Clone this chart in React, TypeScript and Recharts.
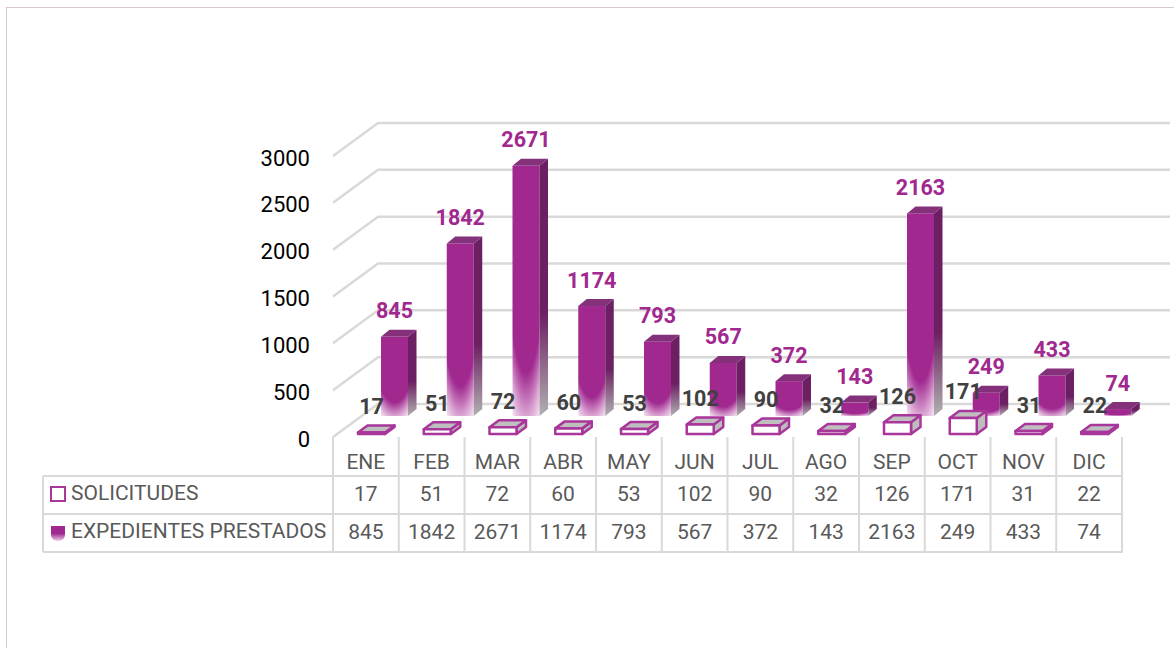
import { ComposedChart, Bar, XAxis, YAxis, CartesianGrid, LabelList } from 'recharts'

const MONTHS = ['ENE', 'FEB', 'MAR', 'ABR', 'MAY', 'JUN', 'JUL', 'AGO', 'SEP', 'OCT', 'NOV', 'DIC']
const SOLICITUDES = [17, 51, 72, 60, 53, 102, 90, 32, 126, 171, 31, 22]
const PRESTADOS = [845, 1842, 2671, 1174, 793, 567, 372, 143, 2163, 249, 433, 74]
const Y_TICKS = [0, 500, 1000, 1500, 2000, 2500, 3000]

const data = MONTHS.map((m, i) => ({ month: m, solicitudes: SOLICITUDES[i], prestados: PRESTADOS[i] }))

const FONT = 'Roboto, sans-serif'
const PURPLE = '#A0288F'
const GRID = '#D9D9D9'
const TEXT = '#595959'

// fake 3D depth, same look as the excel chart
const DEPTH_Y = 7
const WALL_X = 45
const WALL_Y = 33
const WALL_RIGHT = 1170
const BAR_W = 27

// each series sits on its own plane in front of the axis zero
const BACK = { dx: 29, dy: -21, depth: 8.5 }
const FRONT = { dx: 6, dy: -3, depth: 9.5 }

function poly(pts: number[][]) {
  return pts.map(p => p.join(',')).join(' ')
}

function BackBar({ x, y, width, height }: any) {
  const l = x + BACK.dx
  const r = l + width
  const t = y + BACK.dy
  const b = t + height
  const d = BACK.depth
  return (
    <g>
      <rect x={l} y={t} width={width} height={height} fill="url(#faceFade)" />
      <polygon points={poly([[r, t], [r + d, t - DEPTH_Y], [r + d, b - DEPTH_Y], [r, b]])} fill="url(#sideFade)" />
      <polygon points={poly([[l, t], [l + d, t - DEPTH_Y], [r + d, t - DEPTH_Y], [r, t]])} fill="#85307B" />
    </g>
  )
}

function FrontBar({ x, y, width, height }: any) {
  const l = x + FRONT.dx
  const r = l + width
  const t = y + FRONT.dy
  const b = t + height
  const d = FRONT.depth
  const stroke = { stroke: '#A9369B', strokeWidth: 2.5, strokeLinejoin: 'round' as const }
  return (
    <g>
      <polygon points={poly([[r, t], [r + d, t - DEPTH_Y], [r + d, b - DEPTH_Y], [r, b]])} fill="#BDBDBD" {...stroke} />
      <polygon points={poly([[l, t], [l + d, t - DEPTH_Y], [r + d, t - DEPTH_Y], [r, t]])} fill="#BFBFBF" {...stroke} />
      <rect x={l} y={t} width={width} height={height} fill="#fff" {...stroke} />
    </g>
  )
}

function backLabel({ x, y, width, value }: any) {
  return (
    <text x={x + BACK.dx + width / 2} y={y + BACK.dy - 26} textAnchor="middle" dominantBaseline="central"
      fontFamily={FONT} fontWeight={700} fontSize={21.5} fill={PURPLE}>{value}</text>
  )
}

function frontLabel({ x, y, width, value }: any) {
  return (
    <text x={x + FRONT.dx + width / 2} y={y + FRONT.dy - 26} textAnchor="middle" dominantBaseline="central"
      fontFamily={FONT} fontWeight={700} fontSize={21.5} fill="#404040">{value}</text>
  )
}

// back wall + side wall gridline, bent like the 3D box
function WallLine({ x1, y1 }: any) {
  return (
    <polyline points={poly([[x1, y1], [x1 + WALL_X, y1 - WALL_Y], [WALL_RIGHT, y1 - WALL_Y]])}
      fill="none" stroke={GRID} strokeWidth={2.5} />
  )
}

// one column of the data table under each month
function TableTick({ x, y, index, payload }: any) {
  const colW = 65.75
  const left = x - colW / 2
  const cell = { textAnchor: 'middle' as const, dominantBaseline: 'central' as const, fontFamily: FONT, fontSize: 21, fill: TEXT }
  return (
    <g>
      <line x1={left} x2={left} y1={y} y2={552} stroke={GRID} strokeWidth={2} />
      {index === MONTHS.length - 1 && <line x1={left + colW} x2={left + colW} y1={y} y2={552} stroke={GRID} strokeWidth={2} />}
      <text x={x} y={462} {...cell}>{payload.value}</text>
      <text x={x} y={494} {...cell}>{SOLICITUDES[index]}</text>
      <text x={x} y={532} {...cell}>{PRESTADOS[index]}</text>
    </g>
  )
}

function TableHead() {
  const label = { dominantBaseline: 'central' as const, fontFamily: FONT, fontSize: 21, fill: TEXT }
  return (
    <g>
      <line x1={43} x2={1123} y1={476} y2={476} stroke={GRID} strokeWidth={2} />
      <line x1={43} x2={1123} y1={514} y2={514} stroke={GRID} strokeWidth={2} />
      <line x1={43} x2={1123} y1={552} y2={552} stroke={GRID} strokeWidth={2} />
      <line x1={43} x2={43} y1={476} y2={552} stroke={GRID} strokeWidth={2} />
      <rect x={51} y={487} width={14} height={14} fill="#fff" stroke="#A9369B" strokeWidth={2} />
      <path d="M51 526 H65 V534 Q65 541 58 541 Q51 541 51 534 Z" fill="url(#keyFade)" />
      <text x={71} y={493} {...label}>SOLICITUDES</text>
      <text x={71} y={531} {...label}>EXPEDIENTES PRESTADOS</text>
    </g>
  )
}

function YTick({ x, y, payload }: any) {
  return (
    <text x={x} y={y + 2} textAnchor="end" dominantBaseline="central" fontFamily={FONT} fontSize={22} fill="#000">
      {payload.value}
    </text>
  )
}

export default function App() {
  return (
    <div style={{ position: 'absolute', left: 0, top: 0, width: 1174, height: 648, background: '#fff' }}>
      <div style={{ position: 'absolute', left: 6, top: 7, right: 0, bottom: 0, borderLeft: '1px solid #DCC6D4', borderTop: '1px solid #DCC6D4' }} />
      <ComposedChart
        width={1174}
        height={648}
        data={data}
        barSize={BAR_W}
        barGap={-BAR_W}
        margin={{ top: 156, right: 52, bottom: 96, left: 273 }}
        style={{ position: 'absolute', left: 0, top: 0 }}
      >
        <defs>
          <radialGradient id="faceFade" cx="0.5" cy="0" r="1.118">
            <stop offset="0.74" stopColor={PURPLE} />
            <stop offset="0.89" stopColor="#D9A2D1" />
            <stop offset="1" stopColor="#F6E8F4" />
          </radialGradient>
          <linearGradient id="sideFade" x1="0" y1="0" x2="0" y2="1">
            <stop offset="0.6" stopColor="#6D1F63" />
            <stop offset="1" stopColor="#B0B0B0" />
          </linearGradient>
          <linearGradient id="keyFade" x1="0" y1="0" x2="0" y2="1">
            <stop offset="0.5" stopColor={PURPLE} />
            <stop offset="1" stopColor="#EBD0E7" />
          </linearGradient>
        </defs>
        <CartesianGrid vertical={false} horizontal={(props: any) => <WallLine key={props.key} {...props} />} />
        <XAxis
          dataKey="month"
          height={115}
          interval={0}
          axisLine={false}
          tickLine={false}
          tickSize={0}
          tickMargin={0}
          tick={(props: any) => <TableTick {...props} />}
        />
        <YAxis
          width={60}
          domain={[0, 3000]}
          ticks={Y_TICKS}
          axisLine={false}
          tickLine={false}
          tickSize={0}
          tickMargin={23}
          tick={(props: any) => <YTick {...props} />}
        />
        <TableHead />
        <Bar dataKey="prestados" shape={BackBar} isAnimationActive={false}>
          <LabelList dataKey="prestados" content={backLabel} />
        </Bar>
        <Bar dataKey="solicitudes" shape={FrontBar} isAnimationActive={false}>
          <LabelList dataKey="solicitudes" content={frontLabel} />
        </Bar>
      </ComposedChart>
    </div>
  )
}
